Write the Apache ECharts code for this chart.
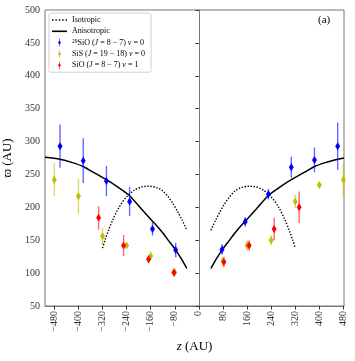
<!DOCTYPE html>
<html><head><meta charset="utf-8">
<script src="https://cdn.jsdelivr.net/npm/echarts@6/dist/echarts.min.js"></script>
<style>html,body{margin:0;padding:0;background:#fff}#c{width:355px;height:361px}</style>
</head><body><div id="c"></div>
<script>
// ---- data ----
const xTicks = [-480, -400, -320, -240, -160, -80, 0, 80, 160, 240, 320, 400, 480];
const yTicks = [50, 100, 150, 200, 250, 300, 350, 400, 450, 500];

const sio29Z   = [-461, -384, -307, -230, -154, -77, 77, 154, 231, 307, 384, 461];
const sio29V   = [293, 271, 240, 209, 167, 135, 136, 178, 220, 261, 272, 293];
const sio29Err = [33, 34, 23, 22, 10, 11, 8, 7, 8, 16, 19, 36];

const sisZ   = [-480, -400, -320, -240, -160, -80, 80, 160, 240, 320, 400, 480];
const sisV   = [242, 217, 156, 142, 126, 101, 118, 142, 150, 209, 234, 242];
const sisErr = [25, 27, 13, 4, 7, 6, 6, 8, 8, 10, 5, 25];

const sioZ   = [-333, -250, -167, -83, 83, 167, 250, 333];
const sioV   = [184, 142, 121, 101, 117, 142, 167, 200];
const sioErr = [18, 16, 6, 6, 8, 8, 17, 24];

// Anisotropic model curve (left and right branches)
const anisoLeftZ  = [-511, -461, -420, -384, -350, -307, -270, -231, -190, -154, -125, -100, -77, -60, -40];
const anisoLeftV  = [276, 273, 268, 262, 253, 242, 231, 218, 197, 179, 164, 149, 135, 123, 107];
const anisoRightZ = [40, 60, 77, 100, 125, 154, 190, 231, 270, 307, 350, 384, 420, 461, 482];
const anisoRightV = [107, 123, 135, 149, 164, 179, 197, 218, 231, 242, 253, 262, 268, 273, 275];

// Isotropic model curve (left and right branches)
const isoLeftZ  = [-320, -312, -300, -285, -265, -240, -215, -190, -165, -140, -120, -102, -85, -70, -55, -40];
const isoLeftV  = [138, 150, 165, 182, 200, 216, 226, 231, 232, 230, 225, 216, 205, 193, 180, 165];
const isoRightZ = [40, 55, 70, 85, 102, 120, 140, 165, 190, 215, 240, 265, 285, 300, 312, 320];
const isoRightV = [165, 180, 193, 205, 216, 225, 230, 232, 231, 226, 216, 200, 182, 165, 150, 138];

const N_ISO = 'Isotropic', N_ANI = 'Anisotropic';
const N_B = 'SiO29', N_Y = 'SiS', N_R = 'SiOv1';
const legendText = {
  'Isotropic': 'Isotropic',
  'Anisotropic': 'Anisotropic',
  'SiO29': '{sup|29}SiO ({i|J} = 8 − 7) {i|ν} = 0',
  'SiS': 'SiS ({i|J} = 19 − 18) {i|ν} = 0',
  'SiOv1': 'SiO ({i|J} = 8 − 7) {i|ν} = 1'
};

const FONT = 'Liberation Serif';
const BLUE = '#0000ff', YEL = '#bfbf00', RED = '#ff0000';
const ICON = 'path://M4.5,0h1v14h-1z M5,3.2L7.6,7L5,10.8L2.4,7Z';
const ICON_SOLID = 'path://M0,0h15v1.6h-15z';
const ICON_DOT = 'path://M0,0h1.4v1.4h-1.4z M3.2,0h1.4v1.4h-1.4z M6.4,0h1.4v1.4h-1.4z M9.6,0h1.4v1.4h-1.4z M12.8,0h1.4v1.4h-1.4z';

function zip(a, b) { return a.map((v, i) => [v, b[i]]); }
function zip3(a, b, c) { return a.map((v, i) => [v, b[i], c[i]]); }

function errSeries(z, v, e, color) {
  return {
    type: 'custom', silent: true, clip: true, z: 3,
    encode: { x: 0, y: 1 },
    data: zip3(z, v, e),
    renderItem: function (params, api) {
      const p1 = api.coord([api.value(0), api.value(1) - api.value(2)]);
      const p2 = api.coord([api.value(0), api.value(1) + api.value(2)]);
      return { type: 'line', shape: { x1: p1[0], y1: p1[1], x2: p2[0], y2: p2[1] },
               style: { stroke: color, lineWidth: 1.4, opacity: 0.6 } };
    }
  };
}
function ptSeries(name, z, v, color) {
  return { name: name, type: 'scatter', z: 4, symbol: 'diamond', symbolSize: [5, 8],
           itemStyle: { color: color, opacity: 1 }, data: zip(z, v) };
}
function lineSeries(name, z, v, dotted) {
  return { name: name, type: 'line', z: 2, smooth: 0.3, symbol: 'none', showSymbol: false,
           lineStyle: { color: '#000', width: dotted ? 1.4 : 1.5, type: dotted ? [1.4, 1.6] : 'solid' },
           itemStyle: { color: '#000' },
           data: zip(z, v) };
}

const chart = echarts.init(document.getElementById('c'), null, { renderer: 'canvas' });
const axisColor = '#777';
chart.setOption({
  animation: false,
  backgroundColor: '#fff',
  textStyle: { fontFamily: FONT },
  grid: { left: 45, right: 11, top: 10, bottom: 55, show: true, borderColor: axisColor, borderWidth: 1,
          outerBoundsMode: 'none', containLabel: false },
  legend: {
    orient: 'vertical', left: 49, top: 13,
    padding: [3, 6, 3, 3], itemWidth: 15, itemHeight: 8, itemGap: 3.3,
    backgroundColor: 'rgba(255,255,255,0.85)', borderColor: '#d0d0d0', borderWidth: 1, borderRadius: 2,
    textStyle: { fontFamily: FONT, fontSize: 8, color: '#000',
      rich: { sup: { fontFamily: FONT, fontSize: 5.5, verticalAlign: 'top', color: '#000' },
              i: { fontFamily: FONT, fontSize: 8, fontStyle: 'italic', color: '#000' } } },
    formatter: function (name) { return legendText[name]; },
    data: [ { name: N_ISO, icon: ICON_DOT }, { name: N_ANI, icon: ICON_SOLID },
            { name: N_B, icon: ICON }, { name: N_Y, icon: ICON }, { name: N_R, icon: ICON } ]
  },
  xAxis: {
    type: 'value', min: -511, max: 482,
    name: '{i|z} (AU)', nameLocation: 'middle', nameGap: 34,
    nameTextStyle: { fontFamily: FONT, fontSize: 13, color: '#000',
      rich: { i: { fontFamily: FONT, fontSize: 13, fontStyle: 'italic', color: '#000' } } },
    axisLine: { show: true, lineStyle: { color: axisColor, width: 1 } },
    axisTick: { show: true, inside: false, length: 3.5, customValues: xTicks, lineStyle: { color: '#333' } },
    axisLabel: { show: true, rotate: 90, margin: 5, fontSize: 10, color: '#333', fontFamily: FONT,
                 customValues: xTicks,
                 formatter: function (v) { return String(v).replace('-', '−'); } },
    splitLine: { show: false }
  },
  yAxis: {
    type: 'value', min: 50, max: 500, interval: 50,
    name: 'ϖ (AU)', nameLocation: 'middle', nameGap: 24, nameRotate: 90,
    nameTextStyle: { fontFamily: FONT, fontSize: 13, color: '#000' },
    axisLine: { show: true, lineStyle: { color: axisColor, width: 1 } },
    axisTick: { show: true, inside: false, length: 3.5, lineStyle: { color: '#333' } },
    axisLabel: { show: true, margin: 5, fontSize: 10, color: '#333', fontFamily: FONT },
    splitLine: { show: false }
  },
  graphic: [{ type: 'text', left: 318, top: 15, style: { text: '(a)', fontFamily: FONT, fontSize: 11, fill: '#000' } }],
  series: [
    lineSeries(N_ISO, isoLeftZ, isoLeftV, true),
    lineSeries(N_ISO, isoRightZ, isoRightV, true),
    lineSeries(N_ANI, anisoLeftZ, anisoLeftV, false),
    lineSeries(N_ANI, anisoRightZ, anisoRightV, false),
    errSeries(sio29Z, sio29V, sio29Err, BLUE),
    ptSeries(N_B, sio29Z, sio29V, BLUE),
    errSeries(sisZ, sisV, sisErr, YEL),
    ptSeries(N_Y, sisZ, sisV, YEL),
    errSeries(sioZ, sioV, sioErr, RED),
    ptSeries(N_R, sioZ, sioV, RED)
  ]
});
</script></body></html>
